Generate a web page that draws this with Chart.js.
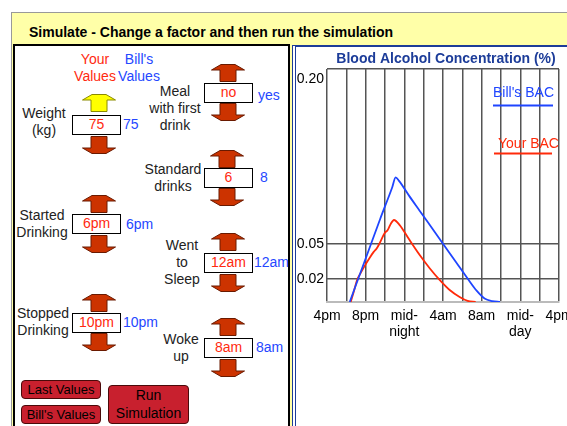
<!DOCTYPE html>
<html>
<head>
<meta charset="utf-8">
<title>Simulate - Blood Alcohol Concentration</title>
<script src="https://cdn.jsdelivr.net/npm/chart.js@4"></script>
<style>
    body { margin: 0; width: 567px; height: 426px; overflow: hidden; position: relative; background: #fff;
           font-family: "Liberation Sans", Arial, sans-serif; font-size: 14px; color: #222; }
    #frame { position: absolute; left: 11px; top: 12px; width: 570px; height: 430px; background: #ffffa8;
             border-left: 1px solid #999; border-top: 1px solid #999; }
    #heading { position: absolute; left: 29px; top: 23px; font-weight: bold; line-height: 18px; color: #000; }
    #controls { position: absolute; left: 13px; top: 44px; width: 273px; height: 400px; background: #fff; border: 2px solid #000; }
    #graph { position: absolute; left: 292px; top: 45px; width: 280px; height: 400px; background: #fff;
             border-left: 4px double #1c3c99; border-top: 2px solid #1c3c99; }
    #bacChart { position: absolute; left: 296px; top: 48px; }
    .lbl { position: absolute; width: 90px; text-align: center; line-height: 17px; }
    .red { color: #ff2a10; }
    .blue { color: #2547ff; }
    .box { position: absolute; box-sizing: border-box; width: 49px; height: 20px; border: 1.5px solid #000; background: #fff;
           text-align: center; line-height: 17px; color: #ff2a10; }
    .bill { position: absolute; line-height: 17px; color: #2547ff; }
    .arw { position: absolute; width: 34px; height: 18px; }
    .btn { position: absolute; box-sizing: border-box; background: #c8202e; border: 1px solid #4a0a0a; border-radius: 4px;
           text-align: center; font-size: 13px; color: #000; }
</style>
</head>
<body>
<svg width="0" height="0" style="position:absolute">
    <defs>
        <polygon id="up" points="10,0.5 24,0.5 33.5,6 25,6 25,17.5 9,17.5 9,6 0.5,6" stroke-width="1"/>
        <polygon id="down" points="9,0.5 25,0.5 25,12 33.5,12 24,17.5 10,17.5 0.5,12 9,12" stroke-width="1"/>
    </defs>
</svg>

<div id="frame"></div>
<div id="heading">Simulate - Change a factor and then run the simulation</div>
<div id="controls"></div>
<div id="graph"></div>

<!-- column heads -->
<div class="lbl red" style="left:50px;top:51px">Your<br>Values</div>
<div class="lbl blue" style="left:94px;top:51px">Bill's<br>Values</div>

<!-- weight -->
<div class="lbl" style="left:-1px;top:105px">Weight<br>(kg)</div>
<svg class="arw" style="left:82px;top:94px"><use href="#up" fill="#ffff00" stroke="#8a8a00"/></svg>
<div class="box" style="left:72px;top:115px">75</div>
<div class="bill" style="left:123px;top:116px">75</div>
<svg class="arw" style="left:82px;top:136px"><use href="#down" fill="#cc3300" stroke="#6a1a00"/></svg>

<!-- meal -->
<div class="lbl" style="left:130px;top:83px">Meal<br>with first<br>drink</div>
<svg class="arw" style="left:211px;top:64px"><use href="#up" fill="#cc3300" stroke="#6a1a00"/></svg>
<div class="box" style="left:204px;top:83px">no</div>
<div class="bill" style="left:258px;top:87px">yes</div>
<svg class="arw" style="left:211px;top:103px"><use href="#down" fill="#cc3300" stroke="#6a1a00"/></svg>

<!-- standard drinks -->
<div class="lbl" style="left:128px;top:161px">Standard<br>drinks</div>
<svg class="arw" style="left:210px;top:150px"><use href="#up" fill="#cc3300" stroke="#6a1a00"/></svg>
<div class="box" style="left:204px;top:168px">6</div>
<div class="bill" style="left:260px;top:169px">8</div>
<svg class="arw" style="left:210px;top:188px"><use href="#down" fill="#cc3300" stroke="#6a1a00"/></svg>

<!-- started drinking -->
<div class="lbl" style="left:-3px;top:207px">Started<br>Drinking</div>
<svg class="arw" style="left:82px;top:195px"><use href="#up" fill="#cc3300" stroke="#6a1a00"/></svg>
<div class="box" style="left:72px;top:214px">6pm</div>
<div class="bill" style="left:126px;top:216px">6pm</div>
<svg class="arw" style="left:82px;top:235px"><use href="#down" fill="#cc3300" stroke="#6a1a00"/></svg>

<!-- went to sleep -->
<div class="lbl" style="left:137px;top:237px">Went<br>to<br>Sleep</div>
<svg class="arw" style="left:211px;top:233px"><use href="#up" fill="#cc3300" stroke="#6a1a00"/></svg>
<div class="box" style="left:204px;top:253px">12am</div>
<div class="bill" style="left:254px;top:254px">12am</div>
<svg class="arw" style="left:211px;top:274px"><use href="#down" fill="#cc3300" stroke="#6a1a00"/></svg>

<!-- stopped drinking -->
<div class="lbl" style="left:-2px;top:305px">Stopped<br>Drinking</div>
<svg class="arw" style="left:82px;top:294px"><use href="#up" fill="#cc3300" stroke="#6a1a00"/></svg>
<div class="box" style="left:72px;top:313px">10pm</div>
<div class="bill" style="left:123px;top:314px">10pm</div>
<svg class="arw" style="left:82px;top:333px"><use href="#down" fill="#cc3300" stroke="#6a1a00"/></svg>

<!-- woke up -->
<div class="lbl" style="left:136px;top:331px">Woke<br>up</div>
<svg class="arw" style="left:211px;top:318px"><use href="#up" fill="#cc3300" stroke="#6a1a00"/></svg>
<div class="box" style="left:204px;top:338px">8am</div>
<div class="bill" style="left:256px;top:339px">8am</div>
<svg class="arw" style="left:211px;top:359px"><use href="#down" fill="#cc3300" stroke="#6a1a00"/></svg>

<div class="btn" style="left:21px;top:380px;width:80px;height:19px;line-height:17px">Last Values</div>
<div class="btn" style="left:21px;top:405px;width:80px;height:19px;line-height:17px">Bill's Values</div>
<div class="btn" style="left:108px;top:385px;width:81px;height:39px;line-height:17.5px;padding-top:1px;font-size:14px">Run<br>Simulation</div>

<canvas id="bacChart" width="271" height="378"></canvas>

<script>
(function () {
    'use strict';

    // x in hours after 4pm, y in BAC (%)
    var timeLabels = ['4pm', '8pm', ['mid-', 'night'], '4am', '8am', ['mid-', 'day'], '4pm'];
    var bacTicks = [0.02, 0.05, 0.20];

    var billHours = [2.35, 4.0, 5.5, 6.75, 7.1, 7.45, 8.5, 9.6, 10.8, 12.0, 13.3, 14.6, 15.5, 16.3, 17.1, 17.9];
    var billBac = [0, 0.0373, 0.0713, 0.0985, 0.107, 0.104, 0.0911, 0.0782, 0.0641, 0.050, 0.0348, 0.0195, 0.0095, 0.003, 0.0008, 0];

    var yourHours = [2.45, 2.76, 3.14, 3.49, 3.9, 4.42, 4.83, 5.14, 5.45, 5.97, 6.28, 6.59, 6.93, 7.52, 8.21, 8.76,
                     9.59, 10.62, 11.65, 12.69, 13.72, 14.55, 15.38];
    var yourBac = [0, 0.0086, 0.0195, 0.025, 0.031, 0.038, 0.043, 0.046, 0.0505, 0.0592, 0.0618, 0.067, 0.0704, 0.066,
                   0.0575, 0.0504, 0.0403, 0.029, 0.019, 0.0103, 0.0043, 0.0009, 0];

    var fontFamily = '"Liberation Sans", Arial, sans-serif';

    function toPoints(xs, ys) {
        return xs.map(function (x, i) { return { x: x, y: ys[i] }; });
    }

    // chart title, the top bac label and the underlined series names
    var overlay = {
        id: 'overlay',
        afterDraw: function (chart) {
            var c = chart.ctx;
            var a = chart.chartArea;
            var yScale = chart.scales.y;
            c.save();
            c.font = 'bold 14px ' + fontFamily;
            c.fillStyle = '#1c3c99';
            c.textAlign = 'center';
            c.textBaseline = 'middle';
            c.fillText('Blood Alcohol Concentration (%)', (a.left + a.right) / 2 + 3, a.top - 10);

            c.font = '14px ' + fontFamily;
            c.fillStyle = '#000';
            c.textAlign = 'right';
            var top = bacTicks[bacTicks.length - 1];
            c.fillText(top.toFixed(2), a.left - 3, yScale.getPixelForValue(top) + 10);

            c.textAlign = 'left';
            chart.data.datasets.forEach(function (ds, i) {
                var ty = a.top + 24 + i * 51;
                c.fillStyle = ds.borderColor;
                c.fillText(ds.label, a.right - 66 + i * 5, ty);
                c.strokeStyle = ds.borderColor;
                c.lineWidth = 2;
                c.beginPath();
                c.moveTo(a.right - 66 + i, ty + 12.5 - i * 3);
                c.lineTo(a.right - 6 - i, ty + 12.5 - i * 3);
                c.stroke();
            });
            c.restore();
        }
    };

    document.addEventListener('DOMContentLoaded', function () {
        var el = document.getElementById('bacChart');
        new Chart(el.getContext('2d'), {
            type: 'line',
            data: {
                datasets: [{
                    label: "Bill's BAC",
                    data: toPoints(billHours, billBac),
                    borderColor: '#1f45ff',
                    borderWidth: 1.8,
                    pointRadius: 0,
                    cubicInterpolationMode: 'monotone'
                }, {
                    label: 'Your BAC',
                    data: toPoints(yourHours, yourBac),
                    borderColor: '#ff2a0a',
                    borderWidth: 1.8,
                    pointRadius: 0,
                    cubicInterpolationMode: 'monotone'
                }]
            },
            options: {
                responsive: false,
                animation: false,
                layout: { padding: { top: 21, right: 8 } },
                plugins: {
                    legend: { display: false },
                    tooltip: { enabled: false },
                    title: { display: false }
                },
                scales: {
                    x: {
                        type: 'linear',
                        min: 0,
                        max: 24,
                        afterFit: function (s) { s.height = 124; s.paddingLeft = 0; s.paddingRight = 0; },
                        ticks: {
                            stepSize: 2,
                            autoSkip: false,
                            maxRotation: 0,
                            padding: 6,
                            color: '#000',
                            font: { family: fontFamily, size: 14, lineHeight: 1.15 },
                            callback: function (v) { return v % 4 === 0 ? timeLabels[v / 4] : ''; }
                        },
                        grid: { color: '#555', lineWidth: 1.5, drawTicks: false },
                        border: { display: true, color: '#bbb', width: 2 }
                    },
                    y: {
                        min: 0,
                        max: 0.2,
                        afterFit: function (s) { s.width = 31; s.paddingTop = 0; s.paddingBottom = 0; },
                        afterBuildTicks: function (s) {
                            s.ticks = bacTicks.map(function (v) { return { value: v }; });
                        },
                        ticks: {
                            padding: 3,
                            color: '#000',
                            font: { family: fontFamily, size: 14 },
                            // the top label is drawn by the overlay, a little below its line
                            callback: function (v) { return v === bacTicks[bacTicks.length - 1] ? '' : v.toFixed(2); }
                        },
                        grid: { color: '#555', lineWidth: 1.5, drawTicks: false },
                        border: { display: false }
                    }
                }
            },
            plugins: [overlay]
        });
    });
})();
</script>
</body>
</html>
